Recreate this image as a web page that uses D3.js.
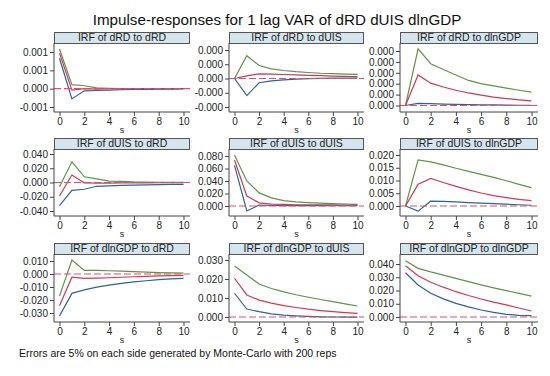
<!DOCTYPE html>
<html>
<head>
<meta charset="utf-8">
<script src="https://cdn.jsdelivr.net/npm/d3@7"></script>
<style>
  body { margin: 0; background: #fff; }
  svg { font-family: "Liberation Sans", Arial, sans-serif; }
</style>
</head>
<body>
<div id="chart"></div>
<script>
// horizon steps and variable names
const steps = [0, 1, 2, 3, 4, 5, 6, 7, 8, 9, 10]
const vars = ["dRD", "dUIS", "dlnGDP"]

// each panel: upper bound, irf, lower bound
const hi_dRD_dRD  = [0.00108, 0.00011, 0.00008, 0.00002, 0.00001, 0, 0, 0, 0, 0, 0]
const irf_dRD_dRD = [0.00097, -0.00004, 0.0, -0.00001, 0, 0, 0, 0, 0, 0, 0]
const lo_dRD_dRD  = [0.00083, -0.00028, -0.00006, -0.00005, -0.00004, -0.00003, -0.00002, -0.00002, -0.00001, -0.00001, 0]

const hi_dRD_dUIS  = [0, 0.00016, 0.000091, 0.000068, 0.000056, 0.000048, 0.000042, 0.000037, 0.000034, 0.000031, 0.000029]
const irf_dRD_dUIS = [0, 0.000018, 0.000033, 0.000031, 0.000028, 0.000025, 0.000022, 0.00002, 0.000017, 0.000015, 0.000013]
const lo_dRD_dUIS  = [0, -0.00012, -0.00003, -0.000017, -0.000009, -0.000004, -0.000001, 0.000001, 0.000002, 0.000002, 0.000002]

const hi_dRD_dlnGDP  = [0, 0.000416, 0.000307, 0.000264, 0.000224, 0.000184, 0.00016, 0.000144, 0.000128, 0.000112, 0.000098]
const irf_dRD_dlnGDP = [0, 0.000224, 0.000164, 0.000136, 0.000112, 0.000092, 0.000076, 0.000062, 0.000051, 0.000042, 0.000034]
const lo_dRD_dlnGDP  = [0, 0.000016, 0.000014, 0.00001, 0.000008, 0.000006, 0.000005, 0.000004, 0.000003, 0.000002, 0.000002]

const hi_dUIS_dRD  = [-0.006, 0.029, 0.008, 0.005, 0.002, 0.0015, 0.0008, 0.0005, 0.0003, 0.0002, 0.0001]
const irf_dUIS_dRD = [-0.019, 0.0105, -0.0005, -0.001, -0.0008, -0.0006, -0.0005, -0.0004, -0.0003, -0.0002, -0.0002]
const lo_dUIS_dRD  = [-0.0325, -0.011, -0.0095, -0.0053, -0.0046, -0.004, -0.0036, -0.0032, -0.003, -0.0027, -0.0025]

const hi_dUIS_dUIS  = [0.0815, 0.040, 0.021, 0.013, 0.0085, 0.0065, 0.0055, 0.0045, 0.0038, 0.0032, 0.0027]
const irf_dUIS_dUIS = [0.0735, 0.016, 0.005, 0.003, 0.0025, 0.002, 0.002, 0.0018, 0.0017, 0.0016, 0.0015]
const lo_dUIS_dUIS  = [0.065, -0.008, 0.0015, 0.0008, 0.0006, 0.0005, 0.0005, 0.0005, 0.0004, 0.0004, 0.0004]

const hi_dUIS_dlnGDP  = [0, 0.0181, 0.0173, 0.0161, 0.0148, 0.0136, 0.0124, 0.0112, 0.0099, 0.0085, 0.0072]
const irf_dUIS_dlnGDP = [0, 0.0085, 0.0108, 0.0092, 0.0077, 0.0063, 0.0051, 0.0041, 0.0033, 0.0026, 0.0021]
const lo_dUIS_dlnGDP  = [0, -0.002, 0.0019, 0.0018, 0.0016, 0.0013, 0.0011, 0.0009, 0.0007, 0.0005, 0.0003]

const hi_dlnGDP_dRD  = [-0.017, 0.0108, 0.0028, 0.0028, 0.0025, 0.0022, 0.0018, 0.0014, 0.0011, 0.0008, 0.0006]
const irf_dlnGDP_dRD = [-0.0245, -0.0025, -0.0034, -0.0032, -0.0029, -0.0025, -0.0021, -0.0018, -0.0015, -0.0012, -0.001]
const lo_dlnGDP_dRD  = [-0.0323, -0.0149, -0.0122, -0.0101, -0.0085, -0.0072, -0.0061, -0.0052, -0.0044, -0.0038, -0.0033]

const hi_dlnGDP_dUIS  = [0.0268, 0.0221, 0.0174, 0.0150, 0.0132, 0.0117, 0.0104, 0.0092, 0.0081, 0.0069, 0.0058]
const irf_dlnGDP_dUIS = [0.0204, 0.0116, 0.0089, 0.0073, 0.006, 0.005, 0.0041, 0.0034, 0.0028, 0.0023, 0.0019]
const lo_dlnGDP_dUIS  = [0.0125, 0.0042, 0.0028, 0.0016, 0.001, 0.0006, 0.0003, 0.0001, 0, -0.0001, -0.0001]

const hi_dlnGDP_dlnGDP  = [0.0425, 0.0367, 0.0340, 0.0316, 0.0292, 0.0267, 0.0242, 0.0220, 0.0199, 0.0178, 0.0158]
const irf_dlnGDP_dlnGDP = [0.0387, 0.0312, 0.0262, 0.0225, 0.0191, 0.0162, 0.0136, 0.0112, 0.0091, 0.0068, 0.0045]
const lo_dlnGDP_dlnGDP  = [0.0334, 0.0242, 0.0179, 0.0137, 0.0103, 0.0076, 0.0053, 0.0035, 0.002, 0.0013, 0.001]

// y tick values per panel (impulse_response)
const ticks_dRD_dRD = [-0.0005, 0, 0.0005, 0.001]
const ticks_dRD_dUIS = [-0.0002, -0.0001, 0, 0.0001, 0.0002]
const ticks_dRD_dlnGDP = [0, 0.00008, 0.00016, 0.00024, 0.00032, 0.0004]
const ticks_dUIS_dRD = [-0.04, -0.02, 0, 0.02, 0.04]
const ticks_dUIS_dUIS = [0, 0.02, 0.04, 0.06, 0.08]
const ticks_dUIS_dlnGDP = [0, 0.005, 0.01, 0.015, 0.02]
const ticks_dlnGDP_dRD = [-0.03, -0.02, -0.01, 0, 0.01]
const ticks_dlnGDP_dUIS = [0, 0.01, 0.02, 0.03]
const ticks_dlnGDP_dlnGDP = [0, 0.01, 0.02, 0.03, 0.04]
const xTicks = [0, 2, 4, 6, 8, 10]

const title = "Impulse-responses for 1 lag VAR of dRD dUIS dlnGDP"
const note = "Errors are 5% on each side generated by Monte-Carlo with 200 reps"

// lookup table: [upper, irf, lower] and ticks
const table = {
  dRD_dRD: [[hi_dRD_dRD, irf_dRD_dRD, lo_dRD_dRD], ticks_dRD_dRD],
  dRD_dUIS: [[hi_dRD_dUIS, irf_dRD_dUIS, lo_dRD_dUIS], ticks_dRD_dUIS],
  dRD_dlnGDP: [[hi_dRD_dlnGDP, irf_dRD_dlnGDP, lo_dRD_dlnGDP], ticks_dRD_dlnGDP],
  dUIS_dRD: [[hi_dUIS_dRD, irf_dUIS_dRD, lo_dUIS_dRD], ticks_dUIS_dRD],
  dUIS_dUIS: [[hi_dUIS_dUIS, irf_dUIS_dUIS, lo_dUIS_dUIS], ticks_dUIS_dUIS],
  dUIS_dlnGDP: [[hi_dUIS_dlnGDP, irf_dUIS_dlnGDP, lo_dUIS_dlnGDP], ticks_dUIS_dlnGDP],
  dlnGDP_dRD: [[hi_dlnGDP_dRD, irf_dlnGDP_dRD, lo_dlnGDP_dRD], ticks_dlnGDP_dRD],
  dlnGDP_dUIS: [[hi_dlnGDP_dUIS, irf_dlnGDP_dUIS, lo_dlnGDP_dUIS], ticks_dlnGDP_dUIS],
  dlnGDP_dlnGDP: [[hi_dlnGDP_dlnGDP, irf_dlnGDP_dlnGDP, lo_dlnGDP_dlnGDP], ticks_dlnGDP_dlnGDP]
}

// series: upper, irf, lower
const seriesColors = ["#5f9448", "#cf3a57", "#2d6494"]

const W = 550, H = 376
const svg = d3.select("#chart").append("svg")
  .attr("width", W).attr("height", H)

svg.append("text")
  .attr("x", 277).attr("y", 25)
  .attr("text-anchor", "middle")
  .style("font-size", "15.2px")
  .attr("fill", "#111")
  .text(title)

svg.append("text")
  .attr("x", 19).attr("y", 357)
  .style("font-size", "10.5px")
  .attr("fill", "#111")
  .text(note)

const colLeft = [54, 229, 400], colRight = [190, 364, 538]
const rowTop = [43, 149, 254], rowBottom = [112, 216, 322]
const headH = 11

const fmt = v => (v < 0 ? "-" : "") + Math.abs(v).toFixed(3)

// pixel rows of first and last y tick in each panel
const yPix = {
  "0_0": [52, 107], "0_1": [50, 107], "0_2": [51, 105.5],
  "1_0": [154, 211], "1_1": [156, 206], "1_2": [155, 206],
  "2_0": [261, 313], "2_1": [260, 317], "2_2": [264, 317]
}

vars.forEach((imp, r) => {
  vars.forEach((resp, c) => {
    const [series, tk] = table[imp + "_" + resp]
    const x0 = colLeft[c], x1 = colRight[c]
    const y0 = rowTop[r], y1 = rowBottom[r]
    const g = svg.append("g")

    const x = d3.scaleLinear().domain([0, 10]).range([x0 + 5.5, x1 - 6.5])
    const [pTop, pBot] = yPix[r + "_" + c]
    const y = d3.scaleLinear()
      .domain([tk[0], tk[tk.length - 1]])
      .range([pBot, pTop])

    // header box
    g.append("rect")
      .attr("x", x0 + 0.5).attr("y", y0 - headH + 0.5)
      .attr("width", x1 - x0 - 1).attr("height", headH)
      .attr("fill", "#d5e5ed").attr("stroke", "#555").attr("stroke-width", 1)
    g.append("text")
      .attr("x", (x0 + x1) / 2).attr("y", y0 - 2)
      .attr("text-anchor", "middle")
      .style("font-size", "10.5px").attr("fill", "#222")
      .text(`IRF of ${imp} to ${resp}`)

    const clip = "clip" + r + c
    g.append("clipPath").attr("id", clip)
      .append("rect").attr("x", x0).attr("y", y0 + 1).attr("width", x1 - x0).attr("height", y1 - y0 - 1)

    const line = d3.line().x((d, i) => x(steps[i])).y(d => y(d))
    const lines = g.append("g").attr("clip-path", `url(#${clip})`)
    series.forEach((s, i) => {
      lines.append("path")
        .datum(s)
        .attr("d", line)
        .attr("fill", "none")
        .attr("stroke", seriesColors[i])
        .attr("stroke-width", 1.2)
    })
    lines.append("line")
      .attr("x1", x0).attr("x2", x1)
      .attr("y1", y(0)).attr("y2", y(0))
      .attr("stroke", "#e0506e").attr("stroke-width", 1.2)
      .attr("stroke-dasharray", "7,3")

    // axes
    const yAxis = g.append("g")
      .attr("transform", `translate(${x0},0)`)
      .call(d3.axisLeft(y).tickValues(tk).tickFormat(fmt).tickSize(4).tickPadding(2))
    yAxis.select(".domain").attr("d", `M0,${y0}V${y1}`)
    const xAxis = g.append("g")
      .attr("transform", `translate(0,${y1})`)
      .call(d3.axisBottom(x).tickValues(xTicks).tickSize(4).tickPadding(2))
    xAxis.select(".domain").attr("d", `M${x0},0H${x1}`)
    ;[yAxis, xAxis].forEach(a => {
      a.selectAll("path,line").attr("stroke", "#444")
      a.selectAll("text").style("font-size", "10px").attr("fill", "#222")
        .style("font-family", "Liberation Sans, Arial, sans-serif")
    })

    g.append("text")
      .attr("x", (x0 + x1) / 2).attr("y", y1 + 21)
      .attr("text-anchor", "middle")
      .style("font-size", "9px").attr("fill", "#222")
      .text("s")
  })
})
</script>
</body>
</html>
